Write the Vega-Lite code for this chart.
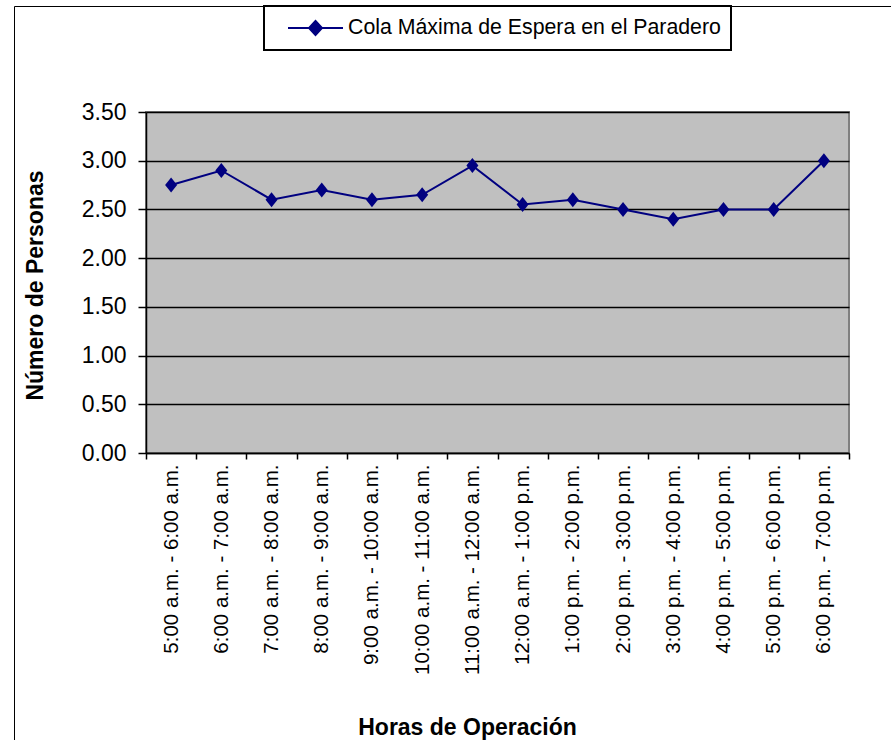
{
  "$schema": "https://vega.github.io/schema/vega-lite/v6.json",
  "autosize": "none",
  "width": 703,
  "height": 341,
  "padding": {"left": 146, "top": 112, "right": 42, "bottom": 287},
  "background": "white",
  "config": {
    "font": "Liberation Sans",
    "view": {"fill": "#C0C0C0", "stroke": "#808080", "strokeWidth": 2},
    "axis": {
      "domainColor": "black",
      "domainWidth": 1.5,
      "tickColor": "black",
      "tickWidth": 1.5,
      "labelColor": "black",
      "titleColor": "black",
      "labelFont": "Liberation Sans",
      "titleFont": "Liberation Sans"
    }
  },
  "data": {
    "values": [
      {"hora": "5:00 a.m. - 6:00 a.m.", "personas": 2.75},
      {"hora": "6:00 a.m. - 7:00 a.m.", "personas": 2.9},
      {"hora": "7:00 a.m. - 8:00 a.m.", "personas": 2.6},
      {"hora": "8:00 a.m. - 9:00 a.m.", "personas": 2.7},
      {"hora": "9:00 a.m. - 10:00 a.m.", "personas": 2.6},
      {"hora": "10:00 a.m. - 11:00 a.m.", "personas": 2.65},
      {"hora": "11:00 a.m. - 12:00 a.m.", "personas": 2.95},
      {"hora": "12:00 a.m. - 1:00 p.m.", "personas": 2.55},
      {"hora": "1:00 p.m. - 2:00 p.m.", "personas": 2.6},
      {"hora": "2:00 p.m. - 3:00 p.m.", "personas": 2.5},
      {"hora": "3:00 p.m. - 4:00 p.m.", "personas": 2.4},
      {"hora": "4:00 p.m. - 5:00 p.m.", "personas": 2.5},
      {"hora": "5:00 p.m. - 6:00 p.m.", "personas": 2.5},
      {"hora": "6:00 p.m. - 7:00 p.m.", "personas": 3.0}
    ]
  },
  "encoding": {
    "x": {
      "field": "hora",
      "type": "nominal",
      "sort": null,
      "bandPosition": 0.5,
      "scale": {"type": "band", "paddingInner": 0, "paddingOuter": 0},
      "axis": {
        "title": "Horas de Operación",
        "titleFontSize": 23,
        "titleFontWeight": "bold",
        "titleX": 321,
        "titleY": 281,
        "titleAlign": "center",
        "titleBaseline": "alphabetic",
        "labelAngle": -90,
        "labelFontSize": 20.5,
        "labelPadding": 5,
        "labelLimit": 300,
        "tickSize": 6,
        "tickBand": "extent",
        "grid": false
      }
    },
    "y": {
      "field": "personas",
      "type": "quantitative",
      "scale": {"domain": [0, 3.5], "nice": false, "zero": true},
      "axis": {
        "title": "Número de Personas",
        "titleFontSize": 23,
        "titleFontWeight": "bold",
        "titleX": -111,
        "titleY": 173,
        "titleAngle": -90,
        "titleAlign": "center",
        "titleBaseline": "middle",
        "values": [0, 0.5, 1, 1.5, 2, 2.5, 3, 3.5],
        "format": ".2f",
        "labelFontSize": 23,
        "labelPadding": 12,
        "tickSize": 8,
        "grid": true,
        "gridColor": "black",
        "gridWidth": 1.4,
        "gridOpacity": 1
      }
    }
  },
  "layer": [
    {
      "mark": {"type": "line", "strokeWidth": 2},
      "encoding": {
        "color": {
          "datum": "Cola Máxima de Espera en el Paradero",
          "scale": {"range": ["#000080"]},
          "legend": {
            "title": null,
            "orient": "none",
            "legendX": 118,
            "legendY": -106,
            "direction": "vertical",
            "padding": 10,
            "strokeColor": "black",
            "fillColor": "white",
            "symbolType": "M-2.5,0H2.5M0,-0.64L0.59,0L0,0.64L-0.59,0Z",
            "symbolSize": 484,
            "symbolOffset": 29.5,
            "labelOffset": 20.5,
            "labelFontSize": 21.3,
            "labelFont": "Liberation Sans",
            "labelColor": "black",
            "labelLimit": 500,
            "labelExpr": "datum.label + '    '",
            "encode": {
              "legend": {"update": {"strokeWidth": {"value": 2}, "stroke": {"value": "black"}}},
              "symbols": {
                "update": {
                  "fill": {"value": "#000080"},
                  "stroke": {"value": "#000080"},
                  "strokeWidth": {"value": 2},
                  "opacity": {"value": 1}
                }
              }
            }
          }
        }
      }
    },
    {
      "mark": {"type": "point", "filled": true, "opacity": 1, "color": "#000080", "size": 225},
      "encoding": {
        "shape": {
          "datum": "marco",
          "scale": {"range": ["M0,-1L0.8,0L0,1L-0.8,0Z"]},
          "legend": {
            "title": null,
            "orient": "none",
            "legendX": -132,
            "legendY": -106,
            "padding": 470,
            "strokeColor": "black",
            "labelOpacity": 0,
            "symbolOpacity": 0,
            "symbolSize": 10,
            "labelFontSize": 1,
            "encode": {
              "legend": {"update": {"strokeWidth": {"value": 3}, "stroke": {"value": "black"}}}
            }
          }
        }
      }
    }
  ]
}
